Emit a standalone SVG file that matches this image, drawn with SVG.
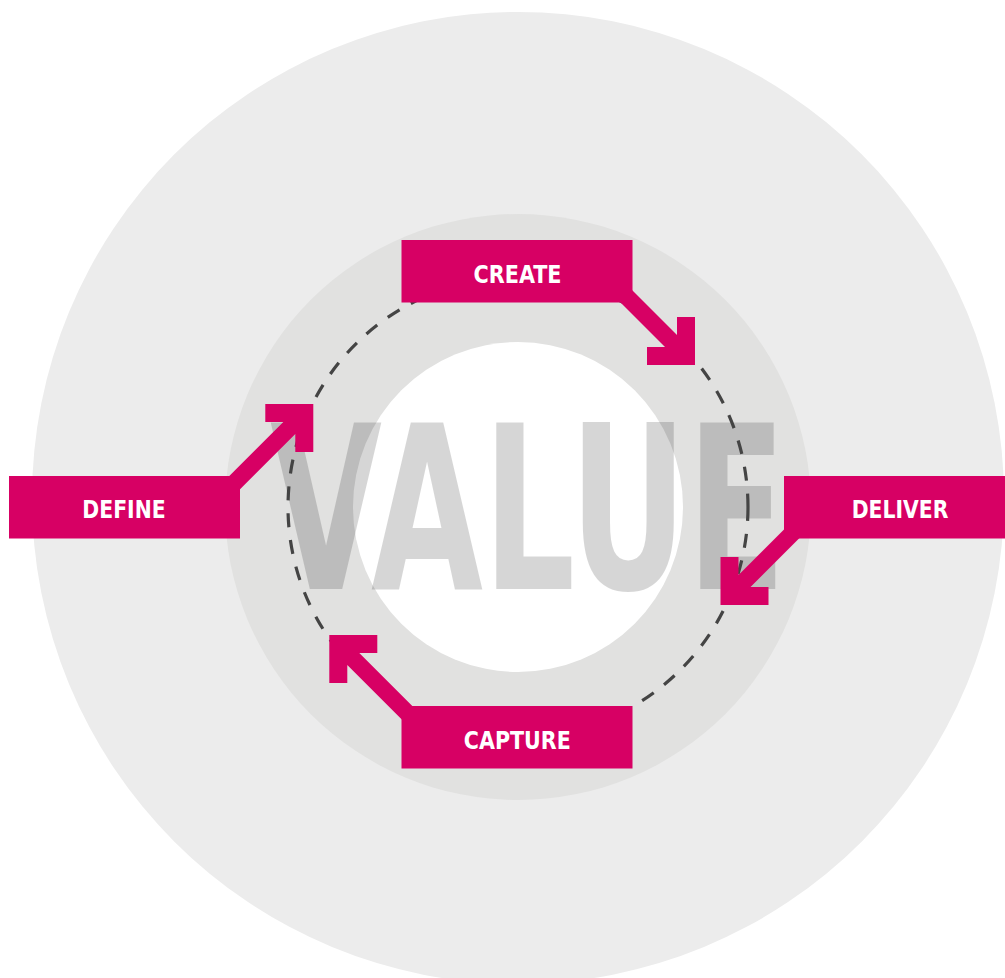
<svg xmlns="http://www.w3.org/2000/svg" xmlns:xlink="http://www.w3.org/1999/xlink" width="1005" height="978" viewBox="0 0 1005 978">
  <style>
    .box { fill: #d70064; }
    .label { fill: #ffffff; font-family: "DejaVu Sans Condensed", "DejaVu Sans", "Liberation Sans", sans-serif; font-weight: bold; font-size: 25.6px; }
    .big { fill: #000000; fill-opacity: 0.16; font-family: "DejaVu Sans Condensed", "DejaVu Sans", "Liberation Sans", sans-serif; font-weight: bold; font-size: 228px; }
    .cycle { fill: none; stroke: #444444; stroke-width: 3.2; stroke-dasharray: 14 13; }
  </style>
  <defs>
    <path id="arrow" d="M0,0 L0,-48 L-18,-48 L-18,-30 L-78,-90 L-90,-78 L-30,-18 L-48,-18 L-48,0 Z"/>
  </defs>
  <rect width="1005" height="978" fill="#ffffff"/>
  <g id="background">
    <circle cx="518" cy="498" r="486" fill="#ececec"/>
    <circle cx="518" cy="507" r="293" fill="#e1e1e0"/>
    <circle cx="518" cy="507" r="165" fill="#ffffff"/>
    <text class="big" transform="translate(270,589) scale(0.684,1)" x="0" y="0" textLength="754" lengthAdjust="spacingAndGlyphs">VALUE</text>
    <circle class="cycle" cx="518" cy="507" r="230"/>
  </g>
  <g id="connectors" class="box">
    <use xlink:href="#arrow" href="#arrow" transform="translate(695,365)"/>
    <use xlink:href="#arrow" href="#arrow" transform="translate(720.5,605) rotate(90)"/>
    <use xlink:href="#arrow" href="#arrow" transform="translate(329.3,635) rotate(180)"/>
    <use xlink:href="#arrow" href="#arrow" transform="translate(313.3,404) rotate(-90)"/>
  </g>
  <g id="create">
    <rect class="box" x="401.5" y="240" width="231" height="62.5"/>
    <text class="label" x="517.5" y="282.7" text-anchor="middle" textLength="88" lengthAdjust="spacingAndGlyphs">CREATE</text>
  </g>
  <g id="deliver">
    <rect class="box" x="784" y="476" width="231" height="62.5"/>
    <text class="label" x="900" y="517.7" text-anchor="middle" textLength="96.7" lengthAdjust="spacingAndGlyphs">DELIVER</text>
  </g>
  <g id="capture">
    <rect class="box" x="401.5" y="706" width="231" height="62.5"/>
    <text class="label" x="517.3" y="749" text-anchor="middle" textLength="107" lengthAdjust="spacingAndGlyphs">CAPTURE</text>
  </g>
  <g id="define">
    <rect class="box" x="9" y="476" width="231" height="62.5"/>
    <text class="label" x="124" y="517.7" text-anchor="middle" textLength="83.3" lengthAdjust="spacingAndGlyphs">DEFINE</text>
  </g>
</svg>
